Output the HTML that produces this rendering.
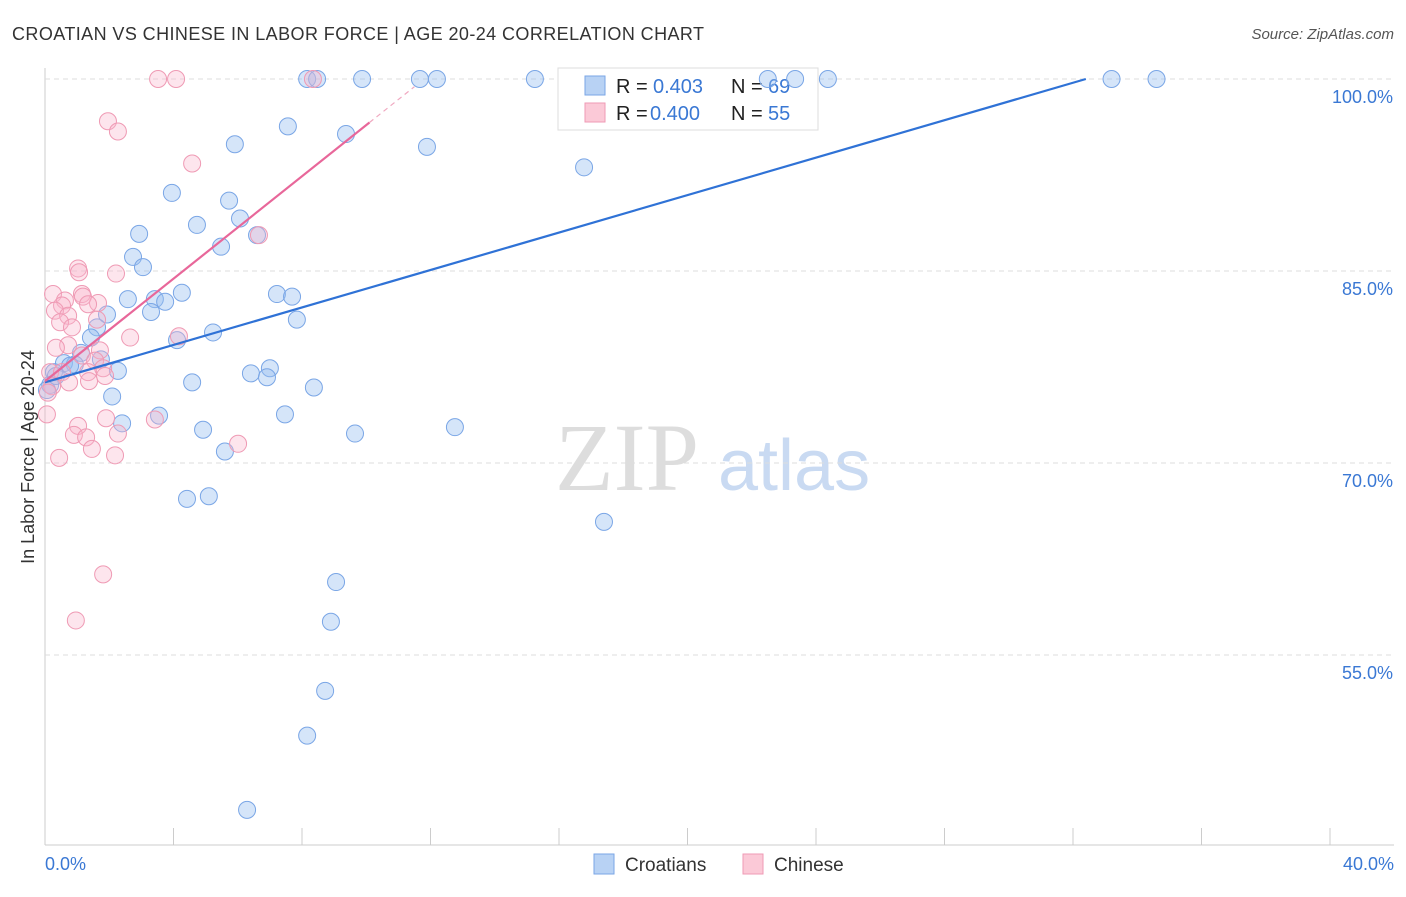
<!DOCTYPE html>
<html><head><meta charset="utf-8"><style>
body{margin:0;background:#fff;font-family:"Liberation Sans",sans-serif}
svg text{font-family:"Liberation Sans",sans-serif}
</style></head><body>
<svg id="c" width="1406" height="892" xmlns="http://www.w3.org/2000/svg">
<text x="12" y="40" font-size="18" fill="#333" textLength="692" lengthAdjust="spacing">CROATIAN VS CHINESE IN LABOR FORCE | AGE 20-24 CORRELATION CHART</text>
<text x="1394" y="39" font-size="15" fill="#555" text-anchor="end" font-style="italic">Source: ZipAtlas.com</text>
<text x="555" y="490" font-size="96" fill="#ddd" style="font-family:'Liberation Serif',serif">ZIP</text>
<text x="718" y="490" font-size="72" fill="#c9daf2">atlas</text>
<g id="grid"></g>
<g>
<rect x="558" y="68" width="260" height="62" fill="#fff" stroke="#ddd"/>
<rect x="585" y="76" width="20" height="19" fill="#b8d2f4" stroke="#7aa6e6"/>
<rect x="585" y="103" width="20" height="19" fill="#fbc9d7" stroke="#ef9ab4"/>
<text x="616" y="93" font-size="20" fill="#222">R =</text>
<text x="653" y="93" font-size="20" fill="#3a78d4">0.403</text>
<text x="731" y="93" font-size="20" fill="#222">N =</text>
<text x="768" y="93" font-size="20" fill="#3a78d4">69</text>
<text x="616" y="120" font-size="20" fill="#222">R =</text>
<text x="650" y="120" font-size="20" fill="#3a78d4">0.400</text>
<text x="731" y="120" font-size="20" fill="#222">N =</text>
<text x="768" y="120" font-size="20" fill="#3a78d4">55</text>
</g>
<g id="pts"></g><g id="lines"></g>
<text transform="translate(34,457) rotate(-90)" font-size="18" fill="#333" text-anchor="middle">In Labor Force | Age 20-24</text>
<text x="45" y="870" font-size="18" fill="#3a78d4">0.0%</text>
<text x="1394" y="870" font-size="18" fill="#3a78d4" text-anchor="end">40.0%</text>
<g>
<rect x="594" y="854" width="20" height="20" fill="#b8d2f4" stroke="#7aa6e6"/>
<text x="625" y="871" font-size="19" fill="#333">Croatians</text>
<rect x="743" y="854" width="20" height="20" fill="#fbc9d7" stroke="#ef9ab4"/>
<text x="774" y="871" font-size="19" fill="#333">Chinese</text>
</g>
</svg>
<script>
const yTicks=[100,85,70,55];
const xTickVals=[0,4,8,12,16,20,24,28,32,36,40];
const blueX=[8.16,9.87,11.67,12.2,15.25,22.5,23.35,24.37,33.2,34.6,8.47,7.56,9.37,5.91,11.89,16.78,3.95,5.73,4.73,6.07,2.93,6.6,5.48,2.74,3.05,4.26,7.22,7.69,2.58,3.42,3.74,3.3,1.93,7.84,1.62,5.23,1.43,4.11,1.12,1.74,0.59,0.93,0.78,2.27,0.28,7.0,6.41,6.91,4.58,8.37,2.09,3.55,7.47,2.4,4.92,9.65,12.76,5.6,4.42,5.1,17.4,9.06,8.9,8.72,8.16,6.29,0.16,0.06,0.34];
const blueY=[100,100,100,100,100,100,100,100,100,100,100,96.3,95.7,94.9,94.7,93.1,91.1,90.5,88.6,89.1,87.9,87.8,86.9,86.1,85.3,83.3,83.2,83.0,82.8,82.8,82.6,81.8,81.6,81.2,80.6,80.2,79.8,79.6,78.6,78.1,77.8,77.7,77.6,77.2,77.1,77.4,77.0,76.7,76.3,75.9,75.2,73.7,73.8,73.1,72.6,72.3,72.8,70.9,67.2,67.4,65.4,60.7,57.6,52.2,48.7,42.9,76.1,75.7,76.8];
const pinkX=[3.52,4.08,8.34,1.96,2.27,4.58,6.66,1.03,1.06,2.21,0.25,1.15,1.18,0.62,0.53,1.65,1.34,0.31,0.72,1.62,0.47,0.84,4.17,2.65,0.72,0.34,1.71,1.15,1.56,0.16,0.53,1.34,1.81,1.87,1.37,0.75,0.22,0.09,0.06,1.9,3.42,1.03,0.9,1.28,6.01,2.27,1.46,0.44,2.18,1.81,0.96];
const pinkY=[100,100,100,96.7,95.9,93.4,87.8,85.2,84.9,84.8,83.2,83.2,83.0,82.7,82.3,82.5,82.4,81.9,81.5,81.2,81.0,80.6,79.9,79.8,79.2,79.0,78.8,78.4,78.0,77.1,77.1,77.1,77.4,76.8,76.4,76.3,76.0,75.5,73.8,73.5,73.4,72.9,72.2,72.0,71.5,72.3,71.1,70.4,70.6,61.3,57.7];
const blueFit=[76.3,32.4];
const pinkFit=[76.4,10.1,11.5];
const pinkSlope=(96.6-76.4)/10.1;
const sx=v=>45+v*32.125, sy=v=>79+(100-v)*12.8;
const NS='http://www.w3.org/2000/svg';
function mk(t,a,p){const e=document.createElementNS(NS,t);for(const k in a)e.setAttribute(k,a[k]);p.appendChild(e);return e;}
const g=document.getElementById('grid');
const ax=mk('line',{x1:45,y1:68,x2:45,y2:845,stroke:'#ccc'},g);


const bx=mk('line',{x1:45,y1:845,x2:1394,y2:845,stroke:'#ccc'},g);


yTicks.forEach(v=>{const l=mk('line',{x1:45,y1:sy(v),x2:1394,y2:sy(v),stroke:'#ddd','stroke-dasharray':'5,4'},g);


const t=mk('text',{x:1393,y:sy(v)+24,'font-size':18,fill:'#3a78d4','text-anchor':'end'},g);t.textContent=v.toFixed(1)+'%';

});
xTickVals.forEach(v=>{const l=mk('line',{x1:sx(v),y1:828,x2:sx(v),y2:845,stroke:'#ccc'},g);

});
const P=document.getElementById('pts');
blueX.forEach((x,i)=>{const c=mk('circle',{cx:sx(x),cy:sy(blueY[i]),r:8.5,fill:'rgba(150,190,240,0.4)',stroke:'#7aa6e6','stroke-width':1},P);

});
pinkX.forEach((x,i)=>{const c=mk('circle',{cx:sx(x),cy:sy(pinkY[i]),r:8.5,fill:'rgba(248,180,202,0.35)',stroke:'#ef9ab4','stroke-width':1},P);

});
const L=document.getElementById('lines');
const bl=mk('line',{x1:sx(0),y1:sy(blueFit[0]),x2:sx(blueFit[1]),y2:sy(100),stroke:'#2f72d6','stroke-width':2.2},L);


const pl=mk('line',{x1:sx(0),y1:sy(pinkFit[0]),x2:sx(pinkFit[1]),y2:sy(pinkFit[0]+pinkSlope*pinkFit[1]),stroke:'#e8679a','stroke-width':2.2},L);


const pd=mk('line',{x1:sx(pinkFit[1]),y1:sy(pinkFit[0]+pinkSlope*pinkFit[1]),x2:sx(pinkFit[2]),y2:sy(pinkFit[0]+pinkSlope*pinkFit[2]),stroke:'#f0a8c0','stroke-width':1.2,'stroke-dasharray':'5,4'},L);


</script>
</body></html>
